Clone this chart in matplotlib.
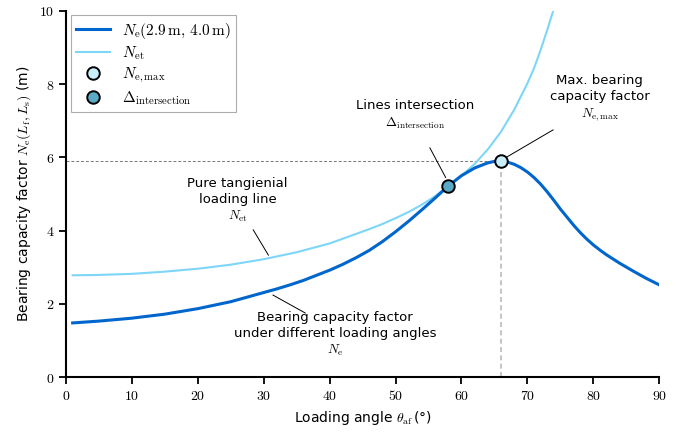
import matplotlib.pyplot as plt

plt.rcParams['mathtext.fontset'] = 'cm'
plt.rcParams['font.family'] = 'DejaVu Sans'

# bearing capacity factor under different loading angles
theta_ne = [1, 5, 10, 15, 20, 25, 30, 32, 34, 36, 38, 40, 42, 44, 46, 48, 50,
            52, 54, 56, 58, 60, 62, 64, 65, 66, 67, 68, 69, 70, 71, 72, 73,
            74, 75, 76, 77, 78, 79, 80, 81, 82, 84, 86, 88, 90]
ne = [1.48, 1.53, 1.61, 1.72, 1.87, 2.06, 2.31, 2.41, 2.52, 2.64, 2.78, 2.92,
      3.08, 3.26, 3.46, 3.70, 3.97, 4.26, 4.57, 4.89, 5.22, 5.50, 5.71, 5.85,
      5.89, 5.90, 5.87, 5.81, 5.72, 5.60, 5.45, 5.27, 5.06, 4.83, 4.59, 4.37,
      4.15, 3.95, 3.77, 3.61, 3.47, 3.34, 3.11, 2.90, 2.70, 2.52]

# pure tangential loading line
theta_net = [1, 5, 10, 15, 20, 25, 30, 35, 40, 42, 44, 46, 48, 50, 52, 54, 56,
             58, 60, 62, 64, 66, 68, 70, 71, 72, 73, 74]
net = [2.78, 2.79, 2.82, 2.88, 2.96, 3.07, 3.22, 3.41, 3.65, 3.78, 3.91, 4.04,
       4.18, 4.34, 4.51, 4.71, 4.94, 5.22, 5.50, 5.82, 6.22, 6.70, 7.30, 8.02,
       8.43, 8.93, 9.47, 10.05]

ne_max = (66, 5.90)
inter = (58, 5.22)

dark = '#0066cc'
light = '#7dd6f8'

fig = plt.figure(figsize=(6.81, 4.33), dpi=100)
ax = fig.add_axes([0.097, 0.129, 0.871, 0.846])

ax.plot([0, ne_max[0]], [ne_max[1], ne_max[1]], color='#777777', lw=0.7, dashes=(3, 2))
ax.plot([ne_max[0], ne_max[0]], [0, ne_max[1]], color='#bbbbbb', lw=1.2, dashes=(3, 2))

ax.plot(theta_ne, ne, color=dark, lw=2.2, label=r'$N_\mathrm{e}(2.9\,\mathrm{m},\,4.0\,\mathrm{m})$', zorder=3)
ax.plot(theta_net, net, color=light, lw=1.5, label=r'$N_\mathrm{et}$', zorder=2)
ax.plot(*ne_max, 'o', ms=9, mfc='#c8eefb', mec='black', mew=1.4, ls='none',
        label=r'$N_\mathrm{e,max}$', zorder=5)
ax.plot(*inter, 'o', ms=9, mfc='#5aa9c6', mec='black', mew=1.4, ls='none',
        label=r'$\Delta_\mathrm{intersection}$', zorder=5)

# annotations
fs = 9.5
ax.text(53.0, 6.72, 'Lines intersection\n' + r'$\Delta_\mathrm{intersection}$',
        ha='center', va='bottom', fontsize=fs, linespacing=1.3)
ax.plot([55.2, 57.6], [6.26, 5.45], color='black', lw=0.7)

ax.text(81.0, 6.95, 'Max. bearing\ncapacity factor\n' + r'$N_\mathrm{e,max}$',
        ha='center', va='bottom', fontsize=fs, linespacing=1.3)
ax.plot([66.6, 73.9], [5.98, 6.75], color='black', lw=0.7)

ax.text(26.0, 4.17, 'Pure tangienial\nloading line\n' + r'$N_\mathrm{et}$',
        ha='center', va='bottom', fontsize=fs, linespacing=1.3)
ax.plot([28.4, 30.7], [4.02, 3.33], color='black', lw=0.7)

ax.text(40.8, 0.52, 'Bearing capacity factor\nunder different loading angles\n' + r'$N_\mathrm{e}$',
        ha='center', va='bottom', fontsize=fs, linespacing=1.3)
ax.plot([31.4, 36.3], [2.24, 1.75], color='black', lw=0.7)

ax.set_xlim(0, 90)
ax.set_ylim(0, 10)
xt = list(range(0, 91, 10))
yt = list(range(0, 11, 2))
ax.set_xticks(xt)
ax.set_xticklabels([f'${v}$' for v in xt])
ax.set_yticks(yt)
ax.set_yticklabels([f'${v}$' for v in yt])
ax.tick_params(labelsize=10, width=1.3, length=5)

for s in ['top', 'right']:
    ax.spines[s].set_visible(False)
for s in ['left', 'bottom']:
    ax.spines[s].set_linewidth(1.5)

ax.set_xlabel(r'Loading angle $\theta_\mathrm{af}\,$(°)', fontsize=10)
ax.set_ylabel(r'Bearing capacity factor $N_\mathrm{e}(L_\mathrm{f}, L_\mathrm{s})$ (m)', fontsize=10)

leg = ax.legend(loc='upper left', fontsize=11, fancybox=False, edgecolor='#999999',
                borderpad=0.35, borderaxespad=0.3, handlelength=2.2, labelspacing=0.25)
leg.get_frame().set_linewidth(0.8)

plt.savefig('out.png', dpi=100)
